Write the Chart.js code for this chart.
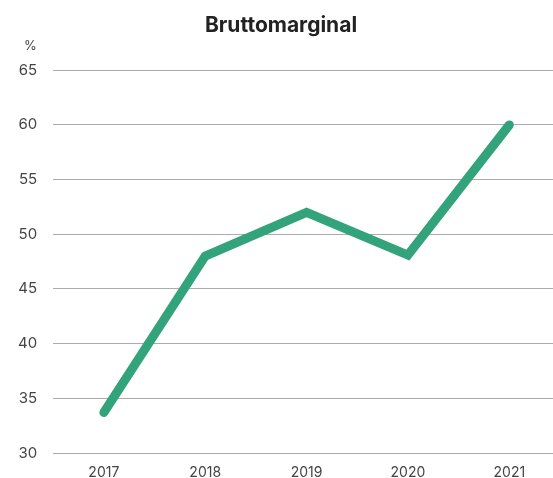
<!DOCTYPE html>
<html>
<head>
<meta charset="utf-8">
<script src="https://cdn.jsdelivr.net/npm/chart.js@4.4.1/dist/chart.umd.min.js"></script>
<style>
    html, body { margin: 0; padding: 0; background: #ffffff; overflow: hidden; }
    #wrap { position: relative; width: 553px; height: 478px; overflow: hidden; }
    #unit {
        position: absolute; left: 24px; top: 37px;
        font-family: Inter, "Open Sans", sans-serif; font-size: 13px; color: #444444;
    }
</style>
</head>
<body>
<div id="wrap">
    <!-- plot runs a little past the right edge, like the original -->
    <canvas id="chart" width="560" height="478"></canvas>
    <div id="unit">%</div>
</div>
<script>
// Data
const years = ['2017', '2018', '2019', '2020', '2021'];
const margin = [33.7, 48.0, 52.0, 48.1, 60.0];
const yTicks = [30, 35, 40, 45, 50, 55, 60, 65];

const tickColor = '#444444';
const gridColor = '#ababab';
const lineColor = '#33a37b';

const chart = new Chart(document.getElementById('chart'), {
    type: 'line',
    data: {
        labels: years,
        datasets: [{
            label: 'Bruttomarginal',
            data: margin,
            borderColor: lineColor,
            backgroundColor: lineColor,
            borderWidth: 9,
            borderCapStyle: 'round',
            borderJoinStyle: 'miter',
            pointRadius: 0,
            tension: 0,
        }]
    },
    options: {
        responsive: false,
        animation: false,
        layout: { padding: { left: 2, right: 0, top: 0, bottom: -8 } },
        plugins: {
            legend: { display: false },
            tooltip: { enabled: false },
            title: {
                display: true,
                text: 'Bruttomarginal',
                color: '#222222',
                font: { family: 'Inter, "Open Sans", sans-serif', size: 21, weight: 'bold' },
                padding: { top: 13, bottom: 32 }
            }
        },
        scales: {
            x: {
                offset: true,
                grid: { display: false },
                border: { display: false },
                ticks: {
                    color: tickColor,
                    padding: 3,
                    font: { family: 'Inter, "Open Sans", sans-serif', size: 14 }
                }
            },
            y: {
                min: 30,
                max: 65,
                afterBuildTicks: axis => { axis.ticks = yTicks.map(v => ({ value: v })); },
                grid: { color: gridColor, lineWidth: 1, drawTicks: false },
                border: { display: false },
                ticks: {
                    color: tickColor,
                    padding: 16,
                    font: { family: 'Inter, "Open Sans", sans-serif', size: 15 }
                }
            }
        }
    }
});
</script>
</body>
</html>
